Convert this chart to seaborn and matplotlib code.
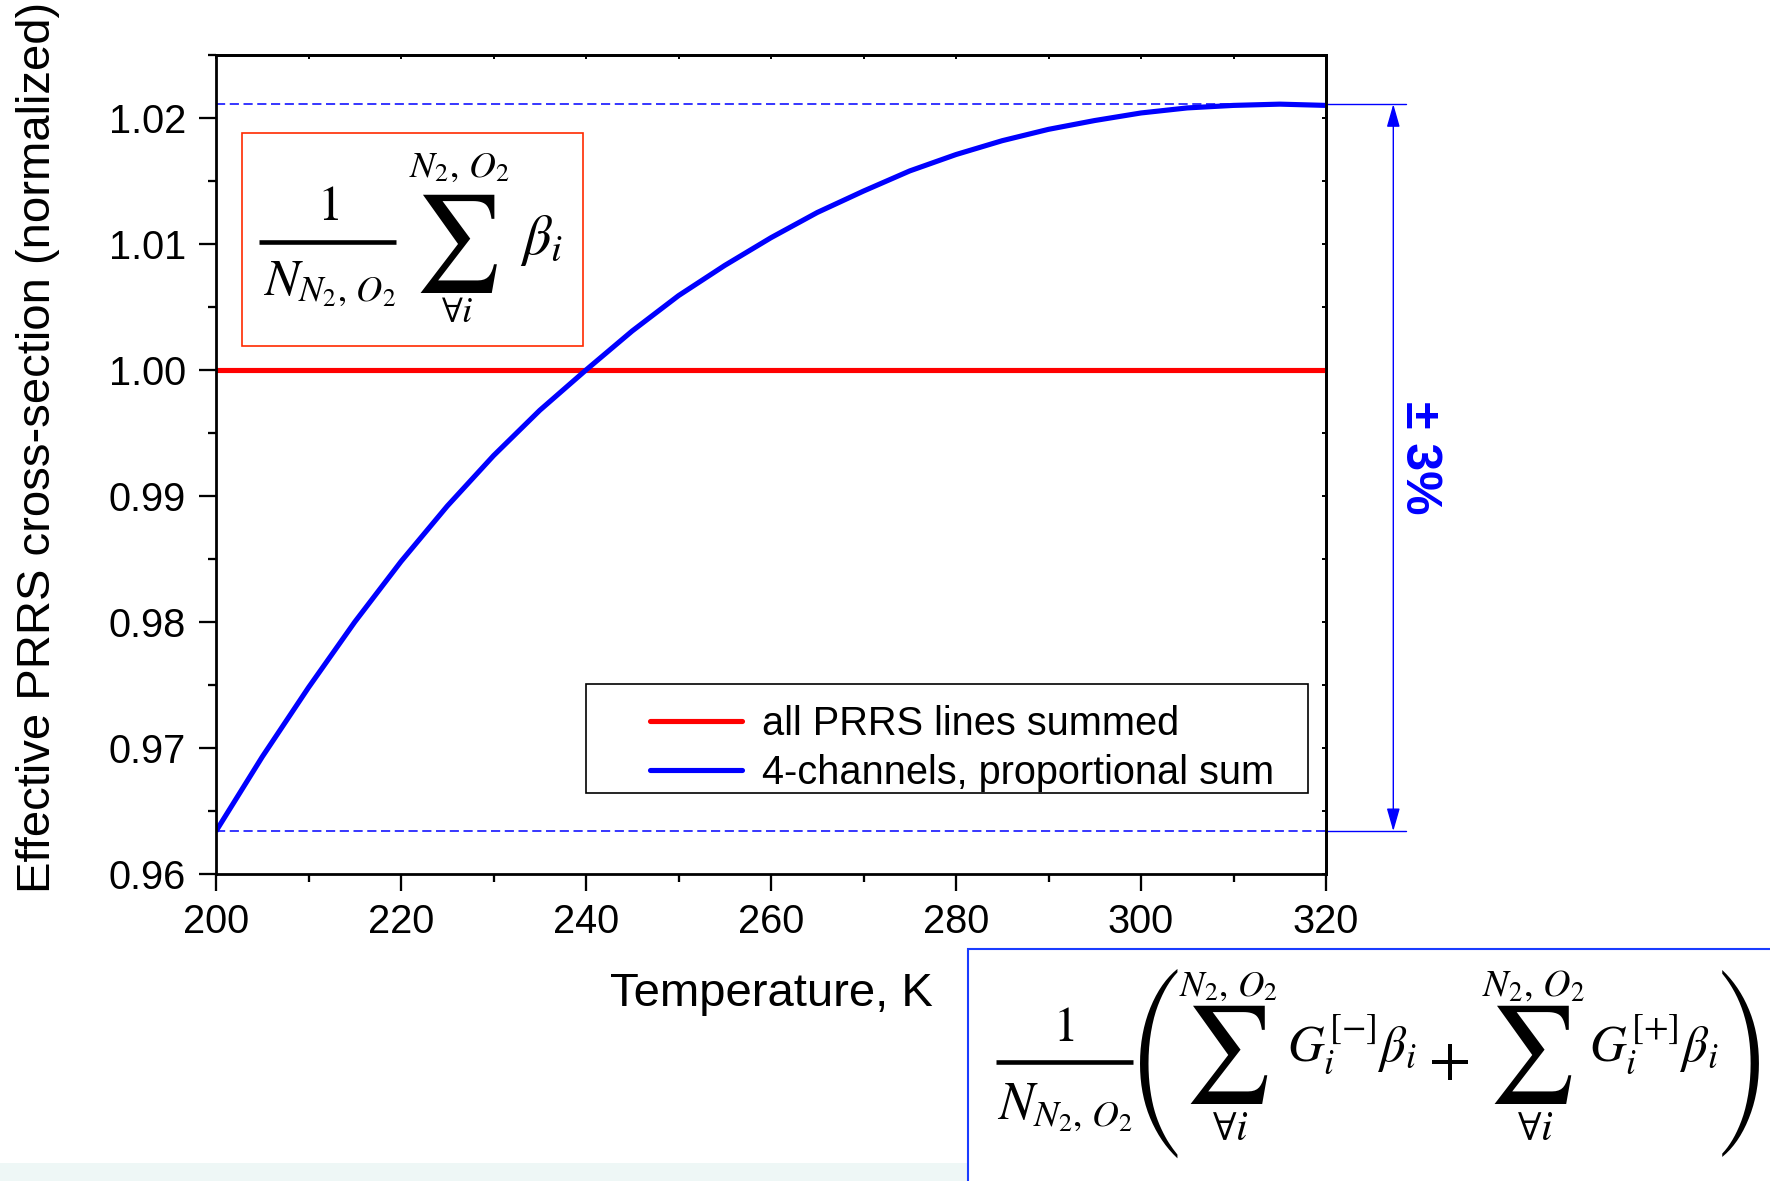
import matplotlib
matplotlib.use("Agg")
import pandas as pd
import matplotlib.pyplot as plt
import matplotlib.transforms as mtransforms
from matplotlib.font_manager import FontProperties
from matplotlib.legend_handler import HandlerLine2D
from matplotlib.lines import Line2D
from matplotlib.patches import Rectangle
from matplotlib.textpath import TextPath
from matplotlib.ticker import MultipleLocator, FormatStrFormatter
import seaborn as sns

# ---------------------------------------------------------------- data
temperature_k = [200, 205, 210, 215, 220, 225, 230, 235, 240, 245, 250, 255, 260,
                 265, 270, 275, 280, 285, 290, 295, 300, 305, 310, 315, 320]
all_lines_summed = [1.000, 1.000, 1.000, 1.000, 1.000, 1.000, 1.000, 1.000, 1.000,
                    1.000, 1.000, 1.000, 1.000, 1.000, 1.000, 1.000, 1.000, 1.000,
                    1.000, 1.000, 1.000, 1.000, 1.000, 1.000, 1.000]
four_channel_sum = [0.9634, 0.9693, 0.9748, 0.9800, 0.9848, 0.9892, 0.9932, 0.9968,
                    1.0000, 1.0031, 1.0059, 1.0083, 1.0105, 1.0125, 1.0142, 1.0158,
                    1.0171, 1.0182, 1.0191, 1.0198, 1.0204, 1.0208, 1.0210, 1.0211,
                    1.0210]
series_labels = ["all PRRS lines summed", "4-channels, proportional sum"]
x_ticks = [200, 220, 240, 260, 280, 300, 320]
y_ticks = [0.96, 0.97, 0.98, 0.99, 1.00, 1.01, 1.02]
x_label = "Temperature, K"
y_label = "Effective PRRS cross-section (normalized)"
spread_label = "± 3%"

# ---------------------------------------------------------------- style
W, H, DPI = 1770, 1181, 100
RED = "#ff0000"
BLUE = "#0000ff"

sns.set_style("ticks")
plt.rcParams["font.family"] = ["Liberation Sans", "DejaVu Sans"]
plt.rcParams["mathtext.fontset"] = "stix"
for key in ("text.color", "axes.labelcolor", "xtick.color", "ytick.color", "axes.edgecolor"):
    plt.rcParams[key] = "black"

fig = plt.figure(figsize=(W / DPI, H / DPI), dpi=DPI, facecolor="white")


def fx(px):
    return px / W


def fy(py):
    return 1 - py / H


AX_L, AX_R, AX_T, AX_B = 216, 1326, 55, 874
ax = fig.add_axes([fx(AX_L), fy(AX_B), (AX_R - AX_L) / W, (AX_B - AX_T) / H])

# ---------------------------------------------------------------- curves
df = pd.DataFrame({"T": temperature_k,
                   "all": all_lines_summed,
                   "four": four_channel_sum})

y_hi = max(four_channel_sum)
y_lo = min(four_channel_sum)
dash = (0, (6, 3))
ax.axhline(y_hi, color=BLUE, lw=1.1, ls=dash, zorder=1.5)
ax.axhline(y_lo, color=BLUE, lw=1.1, ls=dash, zorder=1.5)

sns.lineplot(data=df, x="T", y="all", color=RED, lw=3.7, label=series_labels[0],
             ax=ax, legend=False, solid_capstyle="butt")
sns.lineplot(data=df, x="T", y="four", color=BLUE, lw=3.7, label=series_labels[1],
             ax=ax, legend=False, solid_capstyle="butt", solid_joinstyle="round")

# ---------------------------------------------------------------- axes
ax.set_xlim(200, 320)
ax.set_ylim(0.96, 1.025)
ax.set_xticks(x_ticks)
ax.set_yticks(y_ticks)
ax.xaxis.set_minor_locator(MultipleLocator(10))
ax.yaxis.set_minor_locator(MultipleLocator(0.005))
ax.yaxis.set_major_formatter(FormatStrFormatter("%.2f"))
ax.tick_params(which="major", direction="out", length=12, width=1.65, labelsize=28.6)
ax.tick_params(which="minor", direction="out", length=6, width=1.65)
ax.tick_params(axis="x", which="major", pad=8.7)
ax.tick_params(axis="y", which="major", pad=9.5)
ax.tick_params(top=False, right=False)
for side in ("left", "right", "top", "bottom"):
    ax.spines[side].set_visible(True)
    ax.spines[side].set_linewidth(2.0)
    ax.spines[side].set_color("black")

# short inward ticks on the top and right frame
secx = ax.secondary_xaxis("top")
secx.xaxis.set_major_locator(MultipleLocator(20))
secx.xaxis.set_minor_locator(MultipleLocator(10))
secx.tick_params(axis="x", which="both", direction="in", length=3, width=1.4,
                 labeltop=False, top=True)
secx.spines["top"].set_linewidth(2.0)
secy = ax.secondary_yaxis("right")
secy.yaxis.set_major_locator(MultipleLocator(0.01))
secy.yaxis.set_minor_locator(MultipleLocator(0.005))
secy.tick_params(axis="y", which="both", direction="in", length=3, width=1.4,
                 labelright=False, right=True)
secy.spines["right"].set_linewidth(2.0)

ax.set_xlabel(x_label, fontsize=34)
ax.xaxis.set_label_coords(0.5, (AX_B - 1006) / (AX_B - AX_T))
ax.xaxis.label.set_va("baseline")
ax.set_ylabel(y_label, fontsize=34)
ax.yaxis.set_label_coords((50 - AX_L) / (AX_R - AX_L), (AX_B - 447.5) / (AX_B - AX_T))
ax.yaxis.label.set_va("baseline")


# ---------------------------------------------------------------- legend
class InsetLine(HandlerLine2D):
    """Legend line that starts a little way into its handle box."""

    def __init__(self, lead, **kw):
        super().__init__(**kw)
        self.lead = lead

    def get_xdata(self, legend, xdescent, ydescent, width, height, fontsize):
        return ([-xdescent + self.lead * fontsize, -xdescent + width],
                [-xdescent + width / 2])


def ax_x(px):
    return (px - AX_L) / (AX_R - AX_L)


def ax_y(py):
    return (AX_B - py) / (AX_B - AX_T)


handles, labels = ax.get_legend_handles_labels()
# a blank, tiny title leaves extra room above the entries
leg = ax.legend(handles, labels, loc="upper left", title=" ", title_fontsize=6.7,
                bbox_to_anchor=(ax_x(586), ax_y(684) - 0.001, ax_x(1308) - ax_x(586), 0.001),
                mode="expand", borderaxespad=0, borderpad=0.035, labelspacing=0.27,
                handlelength=3.90, handletextpad=0.5, fontsize=28.6,
                frameon=True, fancybox=False, framealpha=1, edgecolor="black",
                handler_map={Line2D: InsetLine(lead=1.576)})
leg.get_frame().set_linewidth(1.2)
for ln in leg.get_lines():
    ln.set_solid_capstyle("round")

# ---------------------------------------------------------------- spread marker
blend = mtransforms.blended_transform_factory(ax.transAxes, ax.transData)
for yv in (y_hi, y_lo):
    ax.plot([1.0, ax_x(1406)], [yv, yv], color=BLUE, lw=1.0, transform=blend,
            clip_on=False)
ax.annotate("", xy=(ax_x(1393.3), y_lo), xytext=(ax_x(1393.3), y_hi),
            xycoords=blend, textcoords=blend, annotation_clip=False,
            arrowprops=dict(arrowstyle="<|-|>,head_length=1.4,head_width=0.4",
                            color=BLUE, lw=1.0, shrinkA=0, shrinkB=0,
                            mutation_scale=10))
fig.text(fx(1419), fy(457.6), spread_label, rotation=270, ha="center", va="center",
         fontsize=36, fontweight="bold", color=BLUE)


# ---------------------------------------------------------------- formulas
def fit_text(s, box, fit="height", family=None):
    """Place text so its glyphs fill the pixel box (x0, y0, x1, y1), y downward."""
    x0, y0, x1, y1 = box
    prop = FontProperties(family=family) if family else FontProperties()
    ext = TextPath((0, 0), s, size=1, prop=prop).get_extents()
    scale = (y1 - y0) / ext.height if fit == "height" else (x1 - x0) / ext.width
    left = (x0 + x1) / 2 - (ext.x0 + ext.width / 2) * scale
    base = (y0 + y1) / 2 + (ext.y0 + ext.height / 2) * scale
    prop.set_size(scale * 72 / DPI)
    fig.text(fx(left), fy(base), s, fontproperties=prop, ha="left",
             va="baseline", color="black", zorder=5)


def frac_bar(x0, x1, y):
    fig.add_artist(Line2D([fx(x0), fx(x1)], [fy(y), fy(y)], color="black", lw=3.3,
                          transform=fig.transFigure, solid_capstyle="butt", zorder=5))


PAREN_FONT = ["STIXSizeThreeSym", "DejaVu Serif"]

# single-sum expression
fig.add_artist(Rectangle((fx(242.3), fy(346)), (582.7 - 242.3) / W, (346 - 133.3) / H,
                         transform=fig.transFigure, fill=False, edgecolor="#ff2a00",
                         lw=1.2, zorder=4))
fit_text(r"$1$", (318, 186, 341, 220))
frac_bar(259.3, 395.7, 242.0)
fit_text(r"$N_{N_2,\,O_2}$", (262.3, 256.7, 393.3, 310), fit="width")
fit_text(r"$N_2,\,O_2$", (408.3, 153.3, 506.7, 181.7), fit="width")
fit_text(r"$\sum$", (426.7, 194, 488.3, 291.7))
fit_text(r"$\forall i$", (437, 296.7, 475, 321.7))
fit_text(r"$\beta_i$", (518, 210, 559, 271), fit="width")

# two-sum expression, bottom right
fig.add_artist(Rectangle((fx(0), fy(H)), 968.3 / W, 18.5 / H, transform=fig.transFigure,
                         facecolor="#eef7f6", edgecolor="none", zorder=0.5))
fig.add_artist(Rectangle((fx(968.3), fy(H + 20)), (W + 20 - 968.3) / W, (H + 20 - 949.3) / H,
                         transform=fig.transFigure, facecolor="white",
                         edgecolor="#1a3cff", lw=1.5, zorder=4))
fit_text(r"$1$", (1055, 1008, 1076, 1041))
frac_bar(996, 1132.7, 1062)
fit_text(r"$N_{N_2,\,O_2}$", (996, 1083.3, 1130, 1130), fit="width")
fit_text("(", (1141.7, 968.3, 1175, 1158.3), family=PAREN_FONT)
fit_text(r"$N_2,\,O_2$", (1178.3, 970, 1275, 1001.7), fit="width")
fit_text(r"$\sum$", (1196.7, 1005, 1258.3, 1103.3))
fit_text(r"$\forall i$", (1213.3, 1111.7, 1245, 1140))
fit_text(r"$G_i^{[-]}\beta_i$", (1290, 993.3, 1415, 1096.7), fit="width")
fit_text(r"$+$", (1431, 1043, 1467, 1079), fit="width")
fit_text(r"$N_2,\,O_2$", (1481.7, 970, 1582.4, 1001.7), fit="width")
fit_text(r"$\sum$", (1500.8, 1005, 1562.4, 1103.3))
fit_text(r"$\forall i$", (1518.6, 1111.7, 1550.6, 1140))
fit_text(r"$G_i^{[+]}\beta_i$", (1592, 993.3, 1717, 1096.7), fit="width")
fit_text(")", (1726, 970, 1755, 1156), family=PAREN_FONT)

fig.savefig("out.png", dpi=DPI, facecolor="white")
